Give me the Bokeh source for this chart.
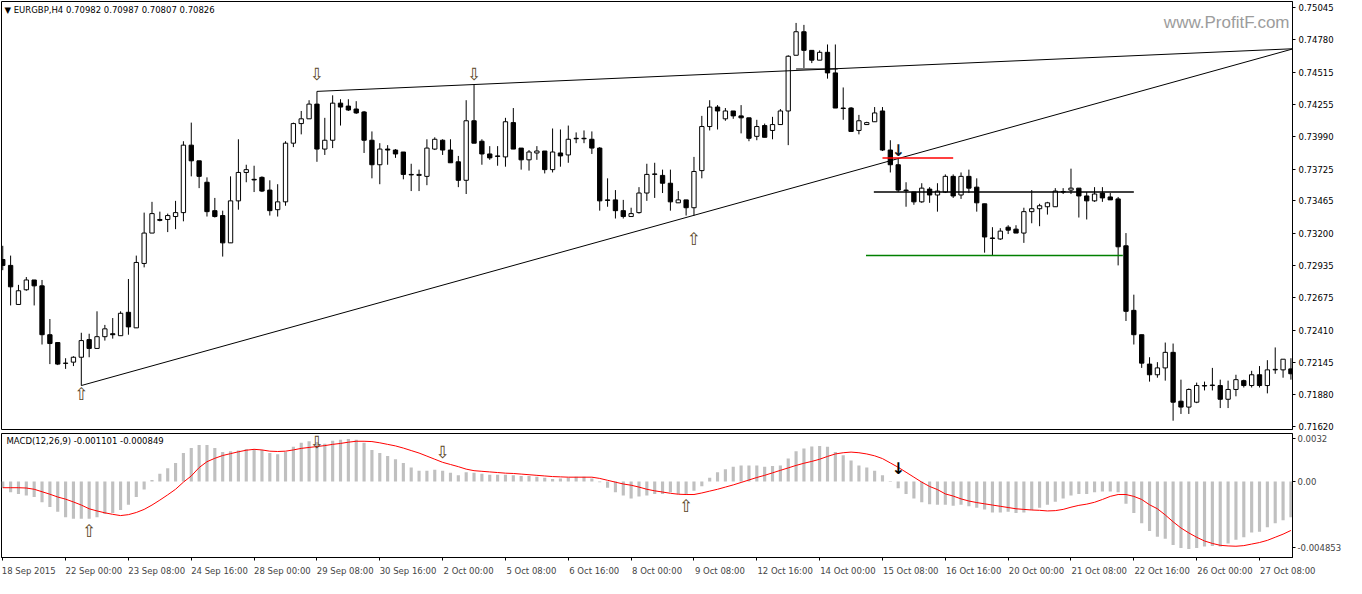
from bokeh.plotting import figure
from bokeh.layouts import column
from bokeh.models import Range1d, FixedTicker, NumeralTickFormatter, Label, ColumnDataSource
from bokeh.core.properties import value
from bokeh.embed import file_html
from bokeh.resources import INLINE

# ---------------- data ----------------
opens = [
0.72986, 0.72938, 0.72619, 0.72739, 0.72819, 0.72771, 0.72372, 0.72308, 0.72140, 0.72148,
0.72188, 0.72332, 0.72260, 0.72356, 0.72380, 0.72364, 0.72555, 0.72428, 0.72954, 0.73202,
0.73313, 0.73313, 0.73337, 0.73369, 0.73920, 0.73792, 0.73617, 0.73385, 0.73345, 0.73122,
0.73465, 0.73697, 0.73641, 0.73657, 0.73553, 0.73393, 0.73457, 0.73936, 0.74096, 0.74135,
0.74255, 0.73888, 0.73960, 0.74263, 0.74239, 0.74215, 0.74191, 0.73960, 0.73760, 0.73888,
0.73880, 0.73864, 0.73681, 0.73673, 0.73665, 0.73888, 0.73960, 0.73880, 0.73784, 0.73633,
0.74119, 0.73952, 0.73848, 0.73832, 0.73824, 0.74104, 0.73896, 0.73800, 0.73856, 0.73872,
0.73720, 0.73856, 0.73840, 0.73976, 0.73976, 0.73968, 0.73896, 0.73473, 0.73473, 0.73385,
0.73337, 0.73369, 0.73529, 0.73681, 0.73673, 0.73609, 0.73449, 0.73473, 0.73409, 0.73712,
0.74072, 0.74231, 0.74135, 0.74199, 0.74159, 0.74143, 0.73992, 0.74080, 0.74040, 0.74088,
0.74199, 0.74654, 0.74846, 0.74694, 0.74614, 0.74678, 0.74510, 0.74223, 0.74223, 0.74040,
0.74088, 0.74111, 0.74199, 0.73880, 0.73760, 0.73553, 0.73537, 0.73457, 0.73561, 0.73513,
0.73537, 0.73665, 0.73513, 0.73665, 0.73577, 0.73441, 0.73162, 0.73154, 0.73250, 0.73234,
0.73202, 0.73377, 0.73401, 0.73417, 0.73417, 0.73537, 0.73553, 0.73569, 0.73505, 0.73465,
0.73529, 0.73497, 0.73481, 0.73098, 0.72571, 0.72372, 0.72132, 0.72045, 0.72101, 0.72228,
0.71829, 0.71781, 0.71821, 0.71957, 0.71957, 0.71957, 0.71845, 0.71925, 0.71997, 0.71957,
0.72045, 0.71957, 0.72085, 0.72085, 0.72093]

highs = [
0.73098, 0.73018, 0.72779, 0.72843, 0.72819, 0.72819, 0.72500, 0.72308, 0.72180, 0.72196,
0.72388, 0.72380, 0.72563, 0.72452, 0.72508, 0.72563, 0.72827, 0.73018, 0.73369, 0.73457,
0.73377, 0.73361, 0.73465, 0.73952, 0.74104, 0.73792, 0.73657, 0.73489, 0.73385, 0.73665,
0.73968, 0.73760, 0.73752, 0.73665, 0.73633, 0.73601, 0.73952, 0.74104, 0.74199, 0.74287,
0.74359, 0.74143, 0.74327, 0.74295, 0.74295, 0.74279, 0.74199, 0.74032, 0.73936, 0.73920,
0.73888, 0.73864, 0.73768, 0.73720, 0.73968, 0.73984, 0.73968, 0.73968, 0.73832, 0.74287,
0.74415, 0.73968, 0.73912, 0.73912, 0.74143, 0.74223, 0.73896, 0.73880, 0.73912, 0.73872,
0.74056, 0.74048, 0.74080, 0.74024, 0.74040, 0.74032, 0.73904, 0.73649, 0.73553, 0.73473,
0.73409, 0.73577, 0.73768, 0.73776, 0.73720, 0.73720, 0.73545, 0.73473, 0.73824, 0.74159,
0.74287, 0.74247, 0.74223, 0.74199, 0.74247, 0.74143, 0.74127, 0.74096, 0.74151, 0.74215,
0.74654, 0.74918, 0.74902, 0.74694, 0.74694, 0.74742, 0.74742, 0.74391, 0.74231, 0.74167,
0.74111, 0.74231, 0.74231, 0.73960, 0.73816, 0.73617, 0.73537, 0.73609, 0.73577, 0.73609,
0.73681, 0.73681, 0.73697, 0.73720, 0.73649, 0.73441, 0.73250, 0.73242, 0.73266, 0.73266,
0.73409, 0.73553, 0.73441, 0.73457, 0.73569, 0.73569, 0.73728, 0.73569, 0.73537, 0.73577,
0.73577, 0.73529, 0.73497, 0.73202, 0.72699, 0.72372, 0.72188, 0.72148, 0.72308, 0.72300,
0.72005, 0.71933, 0.71981, 0.71989, 0.72101, 0.72005, 0.71997, 0.72045, 0.72005, 0.72077,
0.72116, 0.72164, 0.72268, 0.72172, 0.72180]

lows = [
0.72899, 0.72611, 0.72619, 0.72731, 0.72611, 0.72292, 0.72132, 0.72124, 0.72093, 0.72116,
0.71957, 0.72188, 0.72260, 0.72324, 0.72340, 0.72364, 0.72372, 0.72428, 0.72922, 0.73202,
0.73298, 0.73210, 0.73234, 0.73298, 0.73665, 0.73569, 0.73337, 0.73329, 0.73010, 0.73122,
0.73393, 0.73617, 0.73537, 0.73537, 0.73345, 0.73337, 0.73425, 0.73904, 0.74008, 0.74135,
0.73784, 0.73840, 0.73896, 0.74080, 0.74199, 0.74175, 0.73856, 0.73649, 0.73601, 0.73760,
0.73816, 0.73641, 0.73545, 0.73545, 0.73593, 0.73880, 0.73840, 0.73776, 0.73577, 0.73521,
0.73936, 0.73760, 0.73800, 0.73752, 0.73744, 0.73888, 0.73720, 0.73712, 0.73800, 0.73689,
0.73697, 0.73744, 0.73776, 0.73936, 0.73936, 0.73848, 0.73385, 0.73417, 0.73321, 0.73321,
0.73337, 0.73361, 0.73465, 0.73489, 0.73529, 0.73385, 0.73449, 0.73345, 0.73345, 0.73649,
0.74040, 0.74048, 0.74119, 0.74135, 0.74016, 0.73952, 0.73960, 0.73984, 0.73968, 0.74088,
0.73920, 0.74654, 0.74550, 0.74590, 0.74614, 0.74463, 0.74223, 0.74127, 0.74032, 0.74008,
0.74088, 0.74111, 0.73872, 0.73697, 0.73537, 0.73417, 0.73433, 0.73449, 0.73449, 0.73377,
0.73529, 0.73489, 0.73481, 0.73529, 0.73377, 0.73042, 0.73018, 0.73146, 0.73194, 0.73202,
0.73122, 0.73282, 0.73258, 0.73353, 0.73417, 0.73521, 0.73521, 0.73329, 0.73313, 0.73457,
0.73457, 0.73473, 0.72938, 0.72484, 0.72292, 0.72101, 0.71989, 0.72021, 0.71997, 0.71670,
0.71725, 0.71725, 0.71813, 0.71917, 0.71917, 0.71773, 0.71773, 0.71869, 0.71941, 0.71941,
0.71941, 0.71893, 0.72053, 0.72021, 0.72005]

closes = [
0.72938, 0.72763, 0.72731, 0.72819, 0.72771, 0.72372, 0.72300, 0.72132, 0.72138, 0.72188,
0.72324, 0.72260, 0.72356, 0.72420, 0.72372, 0.72547, 0.72436, 0.72962, 0.73202, 0.73361,
0.73306, 0.73345, 0.73369, 0.73920, 0.73792, 0.73665, 0.73377, 0.73337, 0.73122, 0.73465,
0.73697, 0.73720, 0.73636, 0.73545, 0.73385, 0.73457, 0.73936, 0.74096, 0.74135, 0.74255,
0.73888, 0.73960, 0.74263, 0.74231, 0.74207, 0.74183, 0.73960, 0.73760, 0.73888, 0.73880,
0.73848, 0.73681, 0.73677, 0.73681, 0.73896, 0.73968, 0.73880, 0.73776, 0.73633, 0.74119,
0.73936, 0.73848, 0.73816, 0.73828, 0.74111, 0.73888, 0.73800, 0.73864, 0.73872, 0.73720,
0.73864, 0.73832, 0.73968, 0.73972, 0.73972, 0.73896, 0.73465, 0.73469, 0.73385, 0.73337,
0.73361, 0.73529, 0.73681, 0.73685, 0.73609, 0.73457, 0.73473, 0.73409, 0.73705, 0.74072,
0.74231, 0.74199, 0.74199, 0.74159, 0.74143, 0.73976, 0.74072, 0.73984, 0.74088, 0.74199,
0.74646, 0.74846, 0.74694, 0.74614, 0.74678, 0.74510, 0.74223, 0.74219, 0.74032, 0.74119,
0.74104, 0.74183, 0.73880, 0.73760, 0.73553, 0.73549, 0.73457, 0.73569, 0.73513, 0.73545,
0.73665, 0.73505, 0.73665, 0.73569, 0.73449, 0.73170, 0.73158, 0.73218, 0.73226, 0.73202,
0.73377, 0.73401, 0.73425, 0.73449, 0.73545, 0.73541, 0.73569, 0.73505, 0.73465, 0.73521,
0.73489, 0.73473, 0.73090, 0.72563, 0.72372, 0.72140, 0.72045, 0.72101, 0.72228, 0.71821,
0.71781, 0.71925, 0.71957, 0.71953, 0.71961, 0.71845, 0.71925, 0.72005, 0.71957, 0.72045,
0.71957, 0.72085, 0.72089, 0.72172, 0.72053]

macd_hist = [
-0.000457, -0.000800, -0.000914, -0.001029, -0.001143, -0.001532, -0.001874, -0.002240, -0.002629, -0.002743,
-0.002743, -0.002743, -0.002629, -0.002400, -0.002332, -0.002103, -0.001715, -0.001143, -0.000594, 0.000114,
0.000572, 0.000983, 0.001372, 0.002103, 0.002469, 0.002697, 0.002697, 0.002469, 0.002172, 0.002240,
0.002286, 0.002400, 0.002400, 0.002332, 0.002103, 0.002012, 0.002172, 0.002560, 0.002858, 0.002972,
0.002926, 0.002789, 0.003018, 0.003086, 0.003132, 0.003086, 0.002858, 0.002332, 0.002103, 0.001875,
0.001646, 0.001372, 0.001029, 0.000800, 0.000800, 0.000869, 0.000800, 0.000640, 0.000457, 0.000686,
0.000640, 0.000572, 0.000503, 0.000503, 0.000503, 0.000457, 0.000411, 0.000411, 0.000343, 0.000274,
0.000183, 0.000229, 0.000274, 0.000343, 0.000343, 0.000229, -0.000046, -0.000457, -0.000800, -0.001029,
-0.001257, -0.001097, -0.001029, -0.000914, -0.000914, -0.000800, -0.000914, -0.000960, -0.000686, -0.000343,
0.000274, 0.000686, 0.000914, 0.001097, 0.001189, 0.001189, 0.001189, 0.001097, 0.001143, 0.001189,
0.001692, 0.002240, 0.002446, 0.002583, 0.002629, 0.002560, 0.002172, 0.001943, 0.001554, 0.001189,
0.001029, 0.000800, 0.000457, 0.000046, -0.000503, -0.000914, -0.001257, -0.001532, -0.001669, -0.001715,
-0.001715, -0.001783, -0.001715, -0.001829, -0.001943, -0.002058, -0.002286, -0.002286, -0.002240, -0.002332,
-0.002286, -0.002103, -0.001943, -0.001715, -0.001486, -0.001257, -0.001029, -0.000914, -0.000914, -0.000800,
-0.000731, -0.000731, -0.000800, -0.001646, -0.002332, -0.003086, -0.003658, -0.004069, -0.004229, -0.004686,
-0.004915, -0.004983, -0.004915, -0.004801, -0.004755, -0.004801, -0.004572, -0.004298, -0.004115, -0.003772,
-0.003703, -0.003383, -0.003086, -0.002858, -0.002629]

macd_signal = [
-0.000457, -0.000457, -0.000457, -0.000480, -0.000572, -0.000754, -0.000937, -0.001143, -0.001303, -0.001509,
-0.001737, -0.002012, -0.002172, -0.002309, -0.002423, -0.002515, -0.002446, -0.002286, -0.002058, -0.001737,
-0.001372, -0.000983, -0.000572, -0.000046, 0.000411, 0.001029, 0.001463, 0.001715, 0.001920, 0.002058,
0.002195, 0.002309, 0.002377, 0.002332, 0.002240, 0.002217, 0.002240, 0.002332, 0.002446, 0.002515,
0.002583, 0.002652, 0.002743, 0.002812, 0.002903, 0.002972, 0.002972, 0.002949, 0.002858, 0.002743,
0.002629, 0.002469, 0.002286, 0.002103, 0.001875, 0.001646, 0.001417, 0.001257, 0.001097, 0.000914,
0.000800, 0.000754, 0.000709, 0.000663, 0.000617, 0.000594, 0.000549, 0.000503, 0.000457, 0.000411,
0.000366, 0.000343, 0.000320, 0.000320, 0.000320, 0.000320, 0.000229, 0.000091, -0.000046, -0.000183,
-0.000274, -0.000411, -0.000572, -0.000686, -0.000777, -0.000869, -0.000937, -0.000960, -0.000960, -0.000846,
-0.000709, -0.000572, -0.000411, -0.000251, -0.000069, 0.000114, 0.000297, 0.000457, 0.000640, 0.000823,
0.001006, 0.001189, 0.001349, 0.001486, 0.001646, 0.001852, 0.002035, 0.002126, 0.002172, 0.002126,
0.002035, 0.001897, 0.001692, 0.001372, 0.001052, 0.000686, 0.000320, -0.000046, -0.000366, -0.000594,
-0.000914, -0.001074, -0.001280, -0.001440, -0.001554, -0.001646, -0.001737, -0.001829, -0.001920, -0.002012,
-0.002058, -0.002103, -0.002126, -0.002172, -0.002149, -0.002058, -0.001897, -0.001760, -0.001669, -0.001532,
-0.001326, -0.001097, -0.000960, -0.000960, -0.001097, -0.001326, -0.001715, -0.002012, -0.002469, -0.002972,
-0.003429, -0.003795, -0.004115, -0.004389, -0.004572, -0.004709, -0.004755, -0.004778, -0.004732, -0.004618,
-0.004503, -0.004343, -0.004115, -0.003886, -0.003612]

time_labels = ["18 Sep 2015", "22 Sep 00:00", "23 Sep 08:00", "24 Sep 16:00", "28 Sep 00:00",
               "29 Sep 08:00", "30 Sep 16:00", "2 Oct 00:00", "5 Oct 08:00", "6 Oct 16:00",
               "8 Oct 00:00", "9 Oct 08:00", "12 Oct 16:00", "14 Oct 00:00", "15 Oct 08:00",
               "16 Oct 16:00", "20 Oct 00:00", "21 Oct 08:00", "22 Oct 16:00", "26 Oct 00:00",
               "27 Oct 08:00"]
time_label_bars = [8 * k for k in range(len(time_labels))]

price_ticks = [0.75045, 0.74780, 0.74515, 0.74255, 0.73990, 0.73725, 0.73465,
               0.73200, 0.72935, 0.72675, 0.72410, 0.72145, 0.71880, 0.71620]
macd_ticks = [0.0032, 0.0, -0.004853]
macd_tick_text = ["0.0032", "0.00", "-0.004853"]

# annotations drawn on the chart
upper_trend_x = [40, 164.2]
upper_trend_y = [0.74359, 0.74707]
lower_trend_x = [10, 164.2]
lower_trend_y = [0.71957, 0.74705]
short_top_x = [101, 106.3]
short_top_y = [0.74542, 0.74542]
red_level_x = [112, 121]
red_level_y = [0.73816, 0.73816]
black_level_x = [110.9, 144]
black_level_y = [0.73537, 0.73537]
green_level_x = [109.9, 142.6]
green_level_y = [0.73018, 0.73018]

main_arrow_x = [10, 40, 60, 88]
main_arrow_y = [0.71885, 0.74505, 0.74497, 0.73150]
main_arrow_t = ["\u21e7", "\u21e9", "\u21e9", "\u21e7"]
main_thin_x = [114]
main_thin_y = [0.73880]

macd_arrow_x = [11, 40, 56, 87]
macd_arrow_y = [-0.003682, 0.002925, 0.002168, -0.001824]
macd_arrow_t = ["\u21e7", "\u21e9", "\u21e9", "\u21e7"]
macd_thin_x = [114]
macd_thin_y = [0.000998]

# ---------------- build ----------------
FONT = "DejaVu Sans"
FS = "8.5px"
W = 1346
N = len(opens)
xs = list(range(N))

up_idx = [i for i in xs if closes[i] >= opens[i]]
dn_idx = [i for i in xs if closes[i] < opens[i]]

def body(idx):
    return ColumnDataSource(dict(
        x=[xs[i] for i in idx],
        top=[max(opens[i], closes[i]) for i in idx],
        bottom=[min(opens[i], closes[i]) for i in idx],
    ))

xr = Range1d(-0.16, 164.2)

p1 = figure(width=W, height=432, x_range=xr, y_range=Range1d(0.71598, 0.75093),
            output_backend="svg", toolbar_location=None, x_axis_location=None,
            y_axis_location="right", min_border_left=1, min_border_right=54,
            min_border_top=1, min_border_bottom=3)
p1.grid.visible = False
p1.outline_line_color = "black"
p1.outline_line_alpha = 1.0
p1.background_fill_color = "white"

p1.segment(x0=xs, y0=highs, x1=xs, y1=lows, line_color="black", line_width=1)
p1.vbar(x="x", top="top", bottom="bottom", width=0.55, source=body(up_idx),
        fill_color="white", line_color="black", line_width=1)
p1.vbar(x="x", top="top", bottom="bottom", width=0.55, source=body(dn_idx),
        fill_color="black", line_color="black", line_width=1)

p1.line(upper_trend_x, upper_trend_y, line_color="black", line_width=1)
p1.line(lower_trend_x, lower_trend_y, line_color="black", line_width=1)
p1.line(short_top_x, short_top_y, line_color="black", line_width=1)
p1.line(red_level_x, red_level_y, line_color="#ff0000", line_width=1.5)
p1.line(black_level_x, black_level_y, line_color="black", line_width=1.5)
p1.line(green_level_x, green_level_y, line_color="#008000", line_width=1.5)

p1.text(x=main_arrow_x, y=main_arrow_y, text=main_arrow_t, text_font=value(FONT),
        text_font_size="17px", text_align="center", text_baseline="middle",
        text_color="#5a4626")
p1.text(x=main_thin_x, y=main_thin_y, text=["\u2193"], text_font=value(FONT),
        text_font_size="16px", text_align="center", text_baseline="middle",
        text_color="#101828", text_font_style="bold")

ya = p1.yaxis[0]
ya.ticker = FixedTicker(ticks=price_ticks)
ya.formatter = NumeralTickFormatter(format="0.00000")
ya.major_label_text_font = FONT
ya.major_label_text_font_size = FS
ya.major_label_text_color = "black"
ya.major_tick_out = 3
ya.major_tick_in = 0
ya.minor_tick_line_color = None
ya.major_label_standoff = 3
ya.axis_line_color = "black"

p1.add_layout(Label(x=3, y=415, x_units="screen", y_units="screen",
                    text="\u25bc EURGBP,H4  0.70982 0.70987 0.70807 0.70826",
                    text_font=FONT, text_font_size=FS, text_color="black"))
p1.add_layout(Label(x=1288, y=398, x_units="screen", y_units="screen",
                    text="www.ProfitF.com", text_align="right",
                    text_font="Liberation Sans", text_font_size="17px",
                    text_color="#9c9c9c"))

# MACD panel
p2 = figure(width=W, height=146, x_range=xr, y_range=Range1d(-0.005609, 0.003545),
            output_backend="svg", toolbar_location=None, y_axis_location="right",
            min_border_left=1, min_border_right=54, min_border_top=1, min_border_bottom=0)
p2.grid.visible = False
p2.outline_line_color = "black"
p2.outline_line_alpha = 1.0

p2.vbar(x=xs, top=macd_hist, bottom=0, width=0.4, fill_color="#c0c0c0", line_color=None)
p2.line(xs, macd_signal, line_color="#ff0000", line_width=1)
p2.text(x=macd_arrow_x, y=macd_arrow_y, text=macd_arrow_t, text_font=value(FONT),
        text_font_size="17px", text_align="center", text_baseline="middle",
        text_color="#5a4626")
p2.text(x=macd_thin_x, y=macd_thin_y, text=["\u2193"], text_font=value(FONT),
        text_font_size="16px", text_align="center", text_baseline="middle",
        text_color="black", text_font_style="bold")

ya2 = p2.yaxis[0]
ya2.ticker = FixedTicker(ticks=macd_ticks)
ya2.major_label_overrides = {t: s for t, s in zip(macd_ticks, macd_tick_text)}
ya2.major_label_text_font = FONT
ya2.major_label_text_font_size = FS
ya2.major_tick_out = 3
ya2.major_tick_in = 0
ya2.minor_tick_line_color = None
ya2.major_label_standoff = 2

label_pos = [b + 0.3 * len(t) for b, t in zip(time_label_bars, time_labels)]
xa = p2.xaxis[0]
xa.ticker = FixedTicker(ticks=label_pos, minor_ticks=time_label_bars)
xa.major_label_overrides = {p: t for p, t in zip(label_pos, time_labels)}
xa.major_tick_line_color = None
xa.minor_tick_out = 3
xa.minor_tick_in = 0
xa.minor_tick_line_color = "black"
xa.major_label_text_font = FONT
xa.major_label_text_font_size = FS
xa.major_label_standoff = 2
xa.axis_line_color = "black"

p2.add_layout(Label(x=5, y=112, x_units="screen", y_units="screen",
                    text="MACD(12,26,9) -0.001101 -0.000849",
                    text_font=FONT, text_font_size=FS, text_color="black"))

layout = column(p1, p2, spacing=0)
open("out.html", "w").write(file_html(layout, INLINE))
